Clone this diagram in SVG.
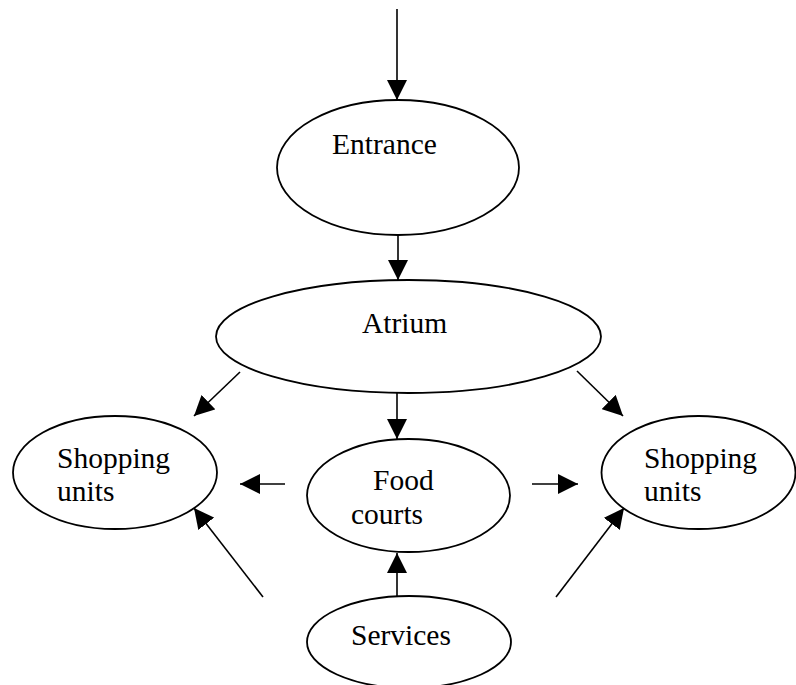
<svg xmlns="http://www.w3.org/2000/svg" width="796" height="685" viewBox="0 0 796 685">
<style>
.node ellipse{fill:#fff;stroke:#000;stroke-width:1.8}
.node text{font-family:"Liberation Serif","Times New Roman",serif;font-size:29.5px;fill:#000}
.conn line{stroke:#000;stroke-width:1.6;marker-end:url(#ah)}
</style>
<defs>
<marker id="ah" markerUnits="userSpaceOnUse" markerWidth="20" markerHeight="20" viewBox="0 0 20 20" refX="20" refY="10" orient="auto">
<path d="M0,0 L20,10 L0,20 z" fill="#000"/>
</marker>
</defs>
<rect width="796" height="685" fill="#fff"/>
<g id="connectors" class="conn">
<line x1="397" y1="9" x2="397" y2="100"/>
<line x1="398" y1="235" x2="398" y2="280"/>
<line x1="397" y1="393" x2="397" y2="439"/>
<line x1="240" y1="372" x2="194" y2="416"/>
<line x1="577" y1="371" x2="623" y2="416"/>
<line x1="285" y1="484" x2="240" y2="484"/>
<line x1="532" y1="484" x2="578" y2="484"/>
<line x1="263" y1="597" x2="194" y2="508"/>
<line x1="556" y1="597" x2="624" y2="508"/>
<line x1="397" y1="597" x2="397" y2="553"/>
</g>
<g id="entrance" class="node">
<ellipse cx="398" cy="167.5" rx="121" ry="67.5"/>
<text x="332" y="154">Entrance</text>
</g>
<g id="atrium" class="node">
<ellipse cx="408.5" cy="336.5" rx="192.5" ry="56.5"/>
<text x="362" y="333">Atrium</text>
</g>
<g id="shopping-left" class="node">
<ellipse cx="115" cy="472.5" rx="102" ry="56.5"/>
<text x="57" y="468">Shopping</text>
<text x="57" y="501">units</text>
</g>
<g id="food-courts" class="node">
<ellipse cx="408.5" cy="495.5" rx="101.5" ry="56.5"/>
<text x="373" y="490">Food</text>
<text x="351" y="524">courts</text>
</g>
<g id="shopping-right" class="node">
<ellipse cx="698.5" cy="472.5" rx="97" ry="56.5"/>
<text x="644" y="468">Shopping</text>
<text x="644" y="501">units</text>
</g>
<g id="services" class="node">
<ellipse cx="409" cy="642" rx="102" ry="46"/>
<text x="351" y="645">Services</text>
</g>
</svg>
